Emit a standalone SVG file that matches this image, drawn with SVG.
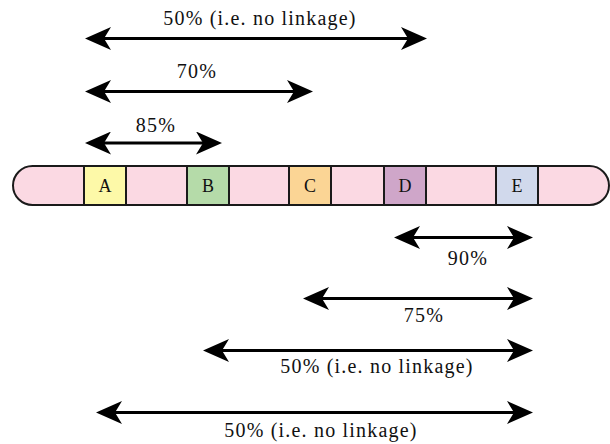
<svg xmlns="http://www.w3.org/2000/svg" width="610" height="444" viewBox="0 0 610 444">
<style>
.lbl{font-family:"Liberation Serif","Times New Roman",serif;font-size:20px;fill:#111;text-anchor:middle;letter-spacing:1.2px}
.gene{font-family:"Liberation Serif","Times New Roman",serif;font-size:18px;fill:#111;text-anchor:middle}
.box{stroke:#1a1a1a;stroke-width:2}
.arr{stroke:#000;stroke-width:3;fill:none;marker-start:url(#head);marker-end:url(#head)}
</style>
<defs>
<marker id="head" viewBox="0 0 26 23" refX="20" refY="11.5" markerWidth="26" markerHeight="23" markerUnits="userSpaceOnUse" orient="auto-start-reverse">
<path d="M26,11.5 L0,0 L7,11.5 L0,23 Z" fill="#000"/>
</marker>
</defs>
<rect width="610" height="444" fill="#fff"/>
<g id="chromosome">
<path d="M32.5,166 H589.5 A19.5,19.5 0 0 1 589.5,205 H32.5 A19.5,19.5 0 0 1 32.5,166 Z" fill="#fbd9e3" stroke="#1a1a1a" stroke-width="2"/>
</g>
<g id="geneA"><rect class="box" x="84" y="166" width="42" height="39" fill="#fdf9a8"/><text class="gene" x="105" y="192">A</text></g>
<g id="geneB"><rect class="box" x="187" y="166" width="42" height="39" fill="#b5dba9"/><text class="gene" x="208" y="192">B</text></g>
<g id="geneC"><rect class="box" x="289" y="166" width="42" height="39" fill="#fbd595"/><text class="gene" x="310" y="192">C</text></g>
<g id="geneD"><rect class="box" x="384" y="166" width="42" height="39" fill="#cfa6c9"/><text class="gene" x="405" y="192">D</text></g>
<g id="geneE"><rect class="box" x="496" y="166" width="42" height="39" fill="#d1d9ec"/><text class="gene" x="517" y="192">E</text></g>
<g id="connectors">
<line class="arr" x1="91" y1="38.5" x2="421" y2="38.5"/>
<line class="arr" x1="91" y1="91.5" x2="307" y2="91.5"/>
<line class="arr" x1="91" y1="143" x2="216" y2="143"/>
<line class="arr" x1="400" y1="237.5" x2="527" y2="237.5"/>
<line class="arr" x1="309" y1="298.5" x2="527" y2="298.5"/>
<line class="arr" x1="209" y1="350.5" x2="527" y2="350.5"/>
<line class="arr" x1="102" y1="412.5" x2="527" y2="412.5"/>
</g>
<g id="labels">
<text class="lbl" x="260" y="25">50% (i.e. no linkage)</text>
<text class="lbl" x="197" y="78">70%</text>
<text class="lbl" x="156" y="132">85%</text>
<text class="lbl" x="468" y="265">90%</text>
<text class="lbl" x="424" y="322">75%</text>
<text class="lbl" x="377" y="373">50% (i.e. no linkage)</text>
<text class="lbl" x="321" y="437">50% (i.e. no linkage)</text>
</g>
</svg>
